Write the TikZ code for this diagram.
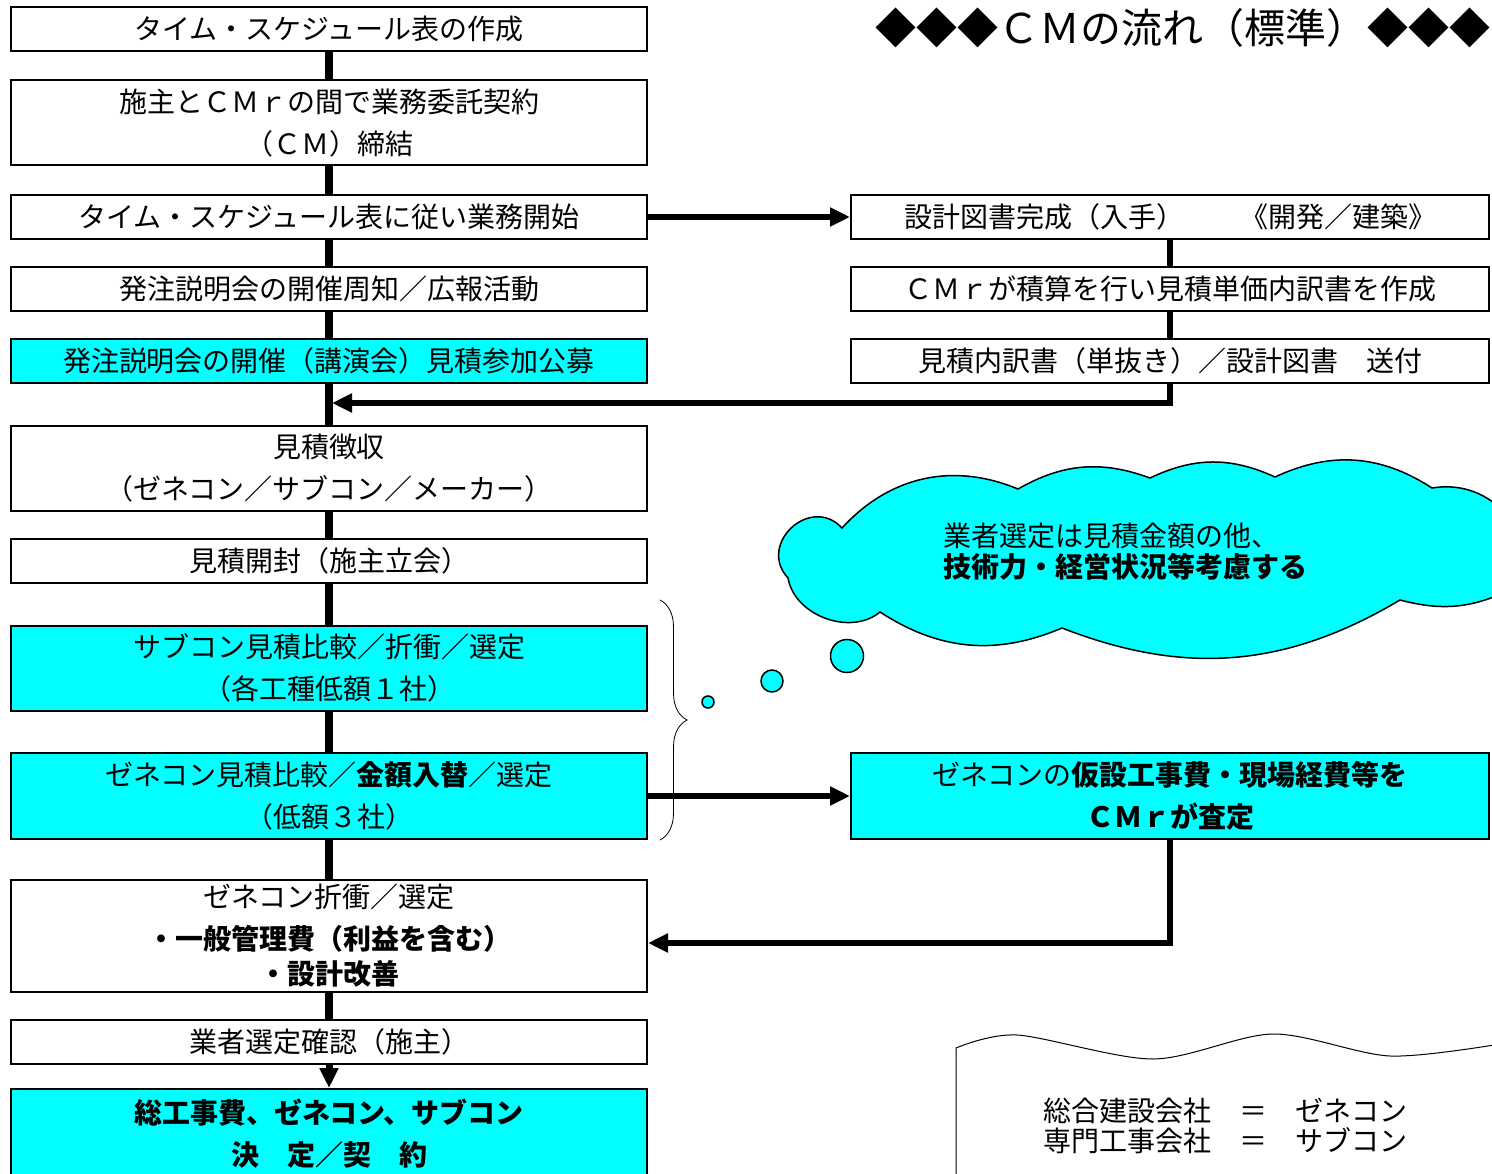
\documentclass[tikz,border=0pt]{standalone}
\usepackage{fontspec}
\setmainfont{Noto Sans CJK JP}
\usetikzlibrary{arrows.meta,decorations.pathreplacing}
\definecolor{aqua}{RGB}{0,255,255}
\begin{document}
\begin{tikzpicture}[x=1pt,y=-1pt,
        stepbox/.style={draw,line width=2pt,minimum width=636pt,minimum height=44pt,inner sep=0pt,align=center,font=\fontsize{28}{42}\selectfont},
        hot/.style={fill=aqua},
        link/.style={line width=8pt},
        flow/.style={line width=6pt,-{Triangle[length=20pt,width=18pt]}},
        puff/.style={circle,draw,line width=1.5pt,fill=aqua,inner sep=0pt}]
    \useasboundingbox (0,0) rectangle (1492,1174);
    \clip (0,0) rectangle (1492,1174);
    %% title
    \node[font=\fontsize{41}{41}\selectfont] (title) at (1183,28) {◆◆◆ＣＭの流れ（標準）◆◆◆};
    %% left column
    \node[stepbox] (sched) at (329,29) {タイム・スケジュール表の作成};
    \node[stepbox,minimum height=85pt] (contract) at (329,123) {施主とＣＭｒの間で業務委託契約\\（ＣＭ）締結};
    \node[stepbox] (start) at (329,217) {タイム・スケジュール表に従い業務開始};
    \node[stepbox] (notice) at (329,289) {発注説明会の開催周知／広報活動};
    \node[stepbox,hot] (briefing) at (329,361) {発注説明会の開催（講演会）見積参加公募};
    \node[stepbox,minimum height=85pt] (collect) at (329,468) {見積徴収\\（ゼネコン／サブコン／メーカー）};
    \node[stepbox] (opening) at (329,561) {見積開封（施主立会）};
    \node[stepbox,hot,minimum height=85pt] (subcon) at (329,668) {サブコン見積比較／折衝／選定\\（各工種低額１社）};
    \node[stepbox,hot,minimum height=86pt] (gencon) at (329,796) {ゼネコン見積比較／\textbf{金額入替}／選定\\（低額３社）};
    \node[stepbox,minimum height=112pt] (nego) at (329,936) {ゼネコン折衝／選定\\\textbf{・一般管理費（利益を含む）}\\[-7pt]\textbf{・設計改善}};
    \node[stepbox] (confirm) at (329,1042) {業者選定確認（施主）};
    \node[stepbox,hot,minimum height=90pt] (decide) at (329,1134) {\textbf{総工事費、ゼネコン、サブコン}\\\textbf{決　定／契　約}};
    %% right column
    \node[stepbox,minimum width=638pt] (drawings) at (1170,217) {設計図書完成（入手）　　《開発／建築》};
    \node[stepbox,minimum width=638pt] (estimate) at (1170,289) {ＣＭｒが積算を行い見積単価内訳書を作成};
    \node[stepbox,minimum width=638pt] (sendout) at (1170,361) {見積内訳書（単抜き）／設計図書　送付};
    \node[stepbox,hot,minimum width=638pt,minimum height=86pt] (review) at (1170,796) {ゼネコンの\textbf{仮設工事費・現場経費等を}\\\textbf{ＣＭｒが査定}};
    %% connectors
    \foreach \a/\b in {sched/contract,contract/start,start/notice,notice/briefing,briefing/collect,collect/opening,opening/subcon,subcon/gencon,gencon/nego,nego/confirm}
        \draw[link] (\a) -- (\b);
    \draw[flow,line width=7pt] (confirm) -- (decide);
    \draw[line width=6pt] (drawings) -- (estimate);
    \draw[line width=6pt] (estimate) -- (sendout);
    \coordinate (join) at (332,403);
    \draw[flow] (sendout.south) |- (join);
    \draw[flow] (start) -- (drawings);
    \draw[flow] (gencon) -- (review);
    \draw[flow] (review.south) |- ([yshift=-7pt]nego.east);
    %% brace
    \draw[decorate,decoration={brace,amplitude=27pt},line width=0.8pt] (660,600) -- (660,840);
    %% thought cloud
    \draw[line width=1.5pt,fill=aqua] (788,578) to[bend left=90,looseness=1.6] (842,528) to[bend left=35] (1018,489)
        to[bend left=25] (1150,478) to[bend left=25] (1275,477) to[bend left=29] (1432,488)
        to[bend left=40] (1520,540) to[bend left=40] (1510,590) to[bend left=20] (1400,600)
        to[bend left=26] (1062,628) to[bend left=28] (880,612) to[bend left=60] cycle;
    \node[anchor=west,align=left,font=\fontsize{28}{31}\selectfont] (ideatext) at (940,552) {業者選定は見積金額の他、\\\textbf{技術力・経営状況等考慮する}};
    \node[puff,minimum size=12pt] (b1) at (708,702) {};
    \node[puff,minimum size=22pt] (b2) at (772,681) {};
    \node[puff,minimum size=33pt] (b3) at (847,656) {};
    %% legend sheet
    \draw[line width=1pt] (956,1180) -- plot[smooth] coordinates {(956,1048) (1017,1035) (1153,1059) (1273,1034) (1390,1056) (1500,1044)};
    \node[anchor=west,align=left,font=\fontsize{28}{30}\selectfont] (legend) at (1040,1126) {総合建設会社　＝　ゼネコン\\専門工事会社　＝　サブコン};
\end{tikzpicture}
\end{document}
